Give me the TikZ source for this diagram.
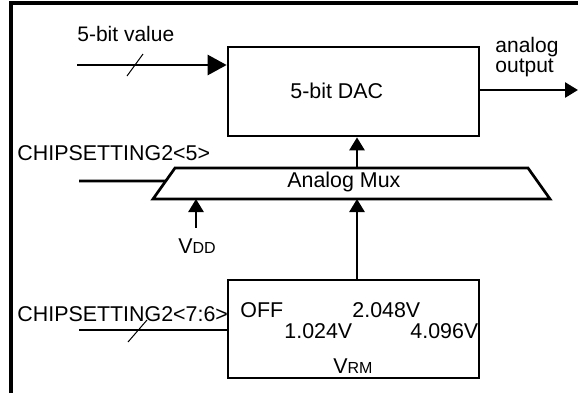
\documentclass[tikz,border=0pt]{standalone}
\usepackage{fontspec}
\setmainfont{Liberation Sans}
\usetikzlibrary{arrows.meta,positioning,calc}

\begin{document}
\begin{tikzpicture}[x=0.5pt,y=-0.5pt,
    wire/.style={line width=1.35pt},
    sig/.style={wire,-{Triangle[length=6.5pt,width=7.5pt]}},
    bigsig/.style={wire,-{Triangle[length=9.5pt,width=10pt]}},
    bus/.style={line width=0.5pt},
    block/.style={draw,line width=1.35pt,rectangle,inner sep=0pt},
    lbl/.style={font=\fontsize{10.7}{10}\selectfont,inner sep=0pt,anchor=base west},
    smalllbl/.style={lbl,font=\fontsize{10.5}{10}\selectfont}]
  \useasboundingbox (0,0) rectangle (578,393);
  % frame
  \draw[line width=1.6pt] (11,393) -- (11,3) -- (578,3);

  % DAC
  \node[block, minimum width=125.5pt, minimum height=44.5pt] (dac) at (353.5,91.5) {};
  \node[lbl] (dactxt) at (290,98) {5-bit DAC};
  \node[smalllbl] (vallbl) at (77,41.5) {5-bit value};
  \coordinate (valin) at (77,65);
  \draw[bigsig] (valin) -- (valin -| dac.west);
  \draw[bus] (127,76) -- (143,54);
  \node[smalllbl, align=left] (outlbl) at (495,72) {analog\\output};
  \coordinate (out) at (578,90);
  \draw[sig] (dac.east |- out) -- (out);

  % analog mux
  \coordinate (muxtl) at (175,168);
  \coordinate (muxtr) at (528,168);
  \coordinate (muxbr) at (550,199);
  \coordinate (muxbl) at (153,199);
  \draw[wire] (muxtl) -- (muxtr) -- (muxbr) -- (muxbl) -- cycle;
  \node[lbl] (muxtxt) at (287,187) {Analog Mux};
  \coordinate (muxtop) at (357,168);
  \draw[sig] (muxtop) -- (muxtop |- dac.south);
  \node[lbl] (sel5) at (17,160) {CHIPSETTING2<5>};
  \coordinate (sel5in) at (79,181);
  \draw[wire] (sel5in) -- ($(muxtl)!13/31!(muxbl)$);
  \node[lbl] (vdd) at (178,253) {V\fontsize{8}{9}\selectfont DD};
  \draw[sig, shorten <=5pt] (vdd.north -| 196,0) -- (196,199);

  % VRM
  \node[block, minimum width=125.5pt, minimum height=49pt] (vrm) at (353.5,329) {};
  \node[lbl] (off) at (240,317) {OFF};
  \node[lbl] (v2) at (352,317) {2.048V};
  \node[lbl] (v1) at (284,338) {1.024V};
  \node[lbl] (v4) at (410,338) {4.096V};
  \node[lbl] (vrmtxt) at (333,373) {V\fontsize{8}{9}\selectfont RM};
  \draw[sig] (vrm.north -| muxtop) -- (muxtop |- muxbl);
  \node[lbl] (sel76) at (17,321) {CHIPSETTING2<7:6>};
  \coordinate (sel76in) at (79,330);
  \draw[wire] (sel76in) -- (sel76in -| vrm.west);
  \draw[bus] (128,342) -- (147,320);
\end{tikzpicture}
\end{document}
